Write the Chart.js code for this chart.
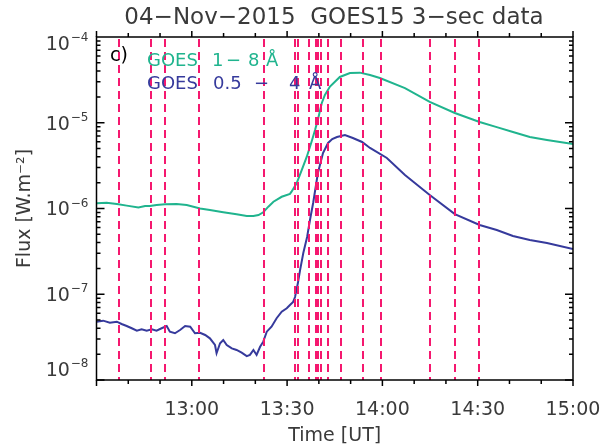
<!DOCTYPE html>
<html>
<head>
<meta charset="utf-8">
<title>GOES15 3-sec data</title>
<script src="https://cdn.jsdelivr.net/npm/chart.js@4.4.0/dist/chart.umd.min.js"></script>
<style>
    html, body { margin: 0; padding: 0; background: #fff; }
    #wrap { width: 602px; height: 447px; }
</style>
</head>
<body>
<div id="wrap"><canvas id="goesChart" width="602" height="447"></canvas></div>
<script>
// Time is in minutes after 12:00 UT, flux in W/m^2

// GOES 1-8 A channel
const longTime = [30.1, 33.2, 36.4, 39.5, 43.2, 45.3, 46.8, 48.9, 51.6, 55.2, 58.4, 60.5, 62.6, 65.7,
    69.9, 74.1, 77.3, 79.4, 81.0, 82.5, 84.1, 85.7, 88.3, 90.9, 91.4, 93.0, 94.6, 96.2, 97.7, 98.8,
    99.8, 100.9, 101.9, 103.5, 106.6, 109.8, 112.9, 116.1, 119.2, 127.1, 134.9, 142.8, 150.6, 156.0,
    161.1, 166.4, 171.8, 180];
const longFlux = [1.15e-6, 1.17e-6, 1.13e-6, 1.08e-6, 1.03e-6, 1.07e-6, 1.07e-6, 1.10e-6, 1.12e-6,
    1.13e-6, 1.10e-6, 1.05e-6, 1.00e-6, 9.6e-7, 9.04e-7, 8.56e-7, 8.18e-7, 8.18e-7, 8.40e-7, 9.04e-7,
    1.05e-6, 1.20e-6, 1.37e-6, 1.48e-6, 1.57e-6, 1.97e-6, 2.81e-6, 4.02e-6, 6.01e-6, 8.22e-6, 1.13e-5,
    1.69e-5, 2.11e-5, 2.64e-5, 3.42e-5, 3.80e-5, 3.84e-5, 3.60e-5, 3.32e-5, 2.54e-5, 1.75e-5, 1.30e-5,
    1.02e-5, 8.9e-6, 7.8e-6, 6.82e-6, 6.30e-6, 5.65e-6];

// GOES 0.5-4 A channel
const shortTime = [30.0, 32.1, 34.2, 36.4, 37.9, 39.5, 41.1, 42.7, 44.2, 45.8, 47.4, 48.9, 50.5, 52.1,
    53.1, 54.7, 56.3, 57.9, 59.5, 61.0, 62.6, 64.2, 65.7, 67.3, 67.8, 68.9, 69.9, 71.0, 72.6, 74.1,
    75.7, 77.3, 78.3, 79.4, 80.4, 81.5, 82.5, 83.6, 85.1, 86.7, 88.3, 89.9, 90.9, 91.9, 92.5, 93.4,
    94.1, 95.1, 96.3, 97.2, 98.2, 99.7, 101.3, 102.9, 104.2, 105.7, 108.2, 110.7, 113.6, 116.1, 121.4,
    127.1, 134.9, 142.8, 150.6, 156.0, 161.1, 166.4, 171.8, 180];
const shortFlux = [4.79e-8, 4.92e-8, 4.66e-8, 4.79e-8, 4.50e-8, 4.26e-8, 4.01e-8, 3.76e-8, 3.90e-8,
    3.76e-8, 3.90e-8, 3.76e-8, 4.01e-8, 4.26e-8, 3.66e-8, 3.51e-8, 3.83e-8, 4.26e-8, 4.19e-8, 3.51e-8,
    3.56e-8, 3.35e-8, 3.06e-8, 2.56e-8, 2.05e-8, 2.68e-8, 2.93e-8, 2.56e-8, 2.34e-8, 2.24e-8, 2.08e-8,
    1.90e-8, 1.96e-8, 2.24e-8, 1.96e-8, 2.44e-8, 2.80e-8, 3.66e-8, 4.19e-8, 5.25e-8, 6.27e-8, 6.86e-8,
    7.50e-8, 8.13e-8, 9.29e-8, 1.35e-7, 1.92e-7, 3.03e-7, 4.65e-7, 7.34e-7, 1.16e-6, 2.59e-6, 4.44e-6,
    5.81e-6, 6.46e-6, 6.82e-6, 7.19e-6, 6.64e-6, 5.97e-6, 5.08e-6, 3.88e-6, 2.46e-6, 1.44e-6, 8.6e-7,
    6.42e-7, 5.61e-7, 4.78e-7, 4.29e-7, 3.96e-7, 3.37e-7];

// Marked event times (dashed lines)
const eventTimes = [37.1, 47.1, 51.5, 62.3, 82.6, 92.5, 93.5, 96.9, 99.0, 99.8, 100.6, 103.0,
    107.1, 113.8, 119.7, 135.0, 142.9, 150.4];

// Axis ticks
const xTickTimes = [60, 90, 120, 150, 180];
const xTickLabels = ['13:00', '13:30', '14:00', '14:30', '15:00'];
const yTickExps = [-8, -7, -6, -5, -4];

const GREEN = '#20b48e';
const BLUE = '#363a9c';
const PINK = '#f5186f';
const TEXT = '#3a3a3a';
const FONT = '"DejaVu Sans", sans-serif';

const toPoints = (times, values) => times.map((t, i) => ({ x: t, y: values[i] }));

// Dashed event markers, drawn over the curves
const eventLines = {
    id: 'eventLines',
    afterDatasetsDraw(chart) {
        const { ctx, chartArea: a, scales: { x } } = chart;
        ctx.save();
        ctx.strokeStyle = PINK;
        ctx.lineWidth = 2;
        ctx.setLineDash([8, 5]);
        eventTimes.forEach(t => {
            const px = Math.round(x.getPixelForValue(t));
            ctx.beginPath();
            ctx.moveTo(px, a.top + 2);
            ctx.lineTo(px, a.bottom);
            ctx.stroke();
        });
        ctx.restore();
    }
};

// Box, inward log ticks, outward time ticks and all the labels
const goesAxes = {
    id: 'goesAxes',
    afterDraw(chart) {
        const { ctx, chartArea: a, scales: { x, y } } = chart;
        ctx.save();
        ctx.strokeStyle = '#000';
        ctx.lineWidth = 1.5;
        ctx.strokeRect(a.left, a.top, a.right - a.left, a.bottom - a.top);

        ctx.beginPath();
        for (let m = 30; m <= 180; m += 10) {
            const px = x.getPixelForValue(m);
            const len = m % 30 === 0 ? 6 : 4;
            ctx.moveTo(px, a.bottom); ctx.lineTo(px, a.bottom + len);
            ctx.moveTo(px, a.top); ctx.lineTo(px, a.top - len);
        }
        for (let e = -8; e < -4; e++) {
            for (let k = 1; k < 10; k++) {
                const py = y.getPixelForValue(k * Math.pow(10, e));
                const len = k === 1 ? 8 : 4;
                ctx.moveTo(a.left, py); ctx.lineTo(a.left + len, py);
                ctx.moveTo(a.right, py); ctx.lineTo(a.right - len, py);
            }
        }
        ctx.stroke();

        ctx.fillStyle = TEXT;
        ctx.textBaseline = 'middle';

        // time labels
        ctx.font = `19px ${FONT}`;
        ctx.textAlign = 'center';
        xTickTimes.forEach((m, i) => {
            ctx.fillText(xTickLabels[i], x.getPixelForValue(m), a.bottom + 30);
        });

        // decade labels, 10 with a raised exponent
        yTickExps.forEach(e => {
            const py = y.getPixelForValue(Math.pow(10, e));
            const mid = Math.min(Math.max(py + 2, a.top + 8), a.bottom - 9);
            const exp = '\u2212' + Math.abs(e);
            ctx.font = `12px ${FONT}`;
            ctx.textAlign = 'right';
            const expW = ctx.measureText(exp).width;
            ctx.fillText(exp, a.left - 8, mid - 7);
            ctx.font = `19px ${FONT}`;
            ctx.fillText('10', a.left - 9 - expW, mid);
        });

        // axis titles
        ctx.textAlign = 'center';
        ctx.font = `19px ${FONT}`;
        ctx.fillText('Time [UT]', (a.left + a.right) / 2, 436);
        ctx.save();
        ctx.translate(25, (a.top + a.bottom) / 2);
        ctx.rotate(-Math.PI / 2);
        ctx.fillText('Flux [W.m\u207B\u00B2]', 0, 0);
        ctx.restore();

        // title
        ctx.font = `23px ${FONT}`;
        ctx.fillText('04\u2212Nov\u22122015  GOES15 3\u2212sec data', 334, 18);

        // panel tag and channel legend
        ctx.textAlign = 'left';
        ctx.fillStyle = '#000';
        ctx.font = `19px ${FONT}`;
        ctx.fillText('c)', 110, 56);

        ctx.font = `18px ${FONT}`;
        ctx.fillStyle = GREEN;
        ctx.fillText('GOES', 147, 61);
        ctx.fillText('1', 212, 61);
        ctx.fillText('\u2212', 226, 61);
        ctx.fillText('8', 248, 61);
        ctx.fillText('\u00C5', 266, 61);
        ctx.fillStyle = BLUE;
        ctx.fillText('GOES', 147, 84);
        ctx.fillText('0.5', 213, 84);
        ctx.fillText('\u2212', 254, 84);
        ctx.fillText('4', 289, 84);
        ctx.fillText('\u00C5', 309, 84);
        ctx.restore();
    }
};

new Chart(document.getElementById('goesChart'), {
    type: 'line',
    data: {
        datasets: [
            {
                label: 'GOES 1-8 A',
                data: toPoints(longTime, longFlux),
                borderColor: GREEN,
                borderWidth: 2
            },
            {
                label: 'GOES 0.5-4 A',
                data: toPoints(shortTime, shortFlux),
                borderColor: BLUE,
                borderWidth: 2
            }
        ]
    },
    options: {
        responsive: false,
        animation: false,
        devicePixelRatio: 1,
        layout: { padding: { left: 96.5, top: 37, right: 29, bottom: 67 } },
        elements: { point: { radius: 0 }, line: { tension: 0 } },
        scales: {
            x: { type: 'linear', min: 30, max: 180, display: false },
            y: { type: 'logarithmic', min: 1e-8, max: 1e-4, display: false }
        },
        plugins: {
            legend: { display: false },
            tooltip: { enabled: false }
        }
    },
    plugins: [eventLines, goesAxes]
});
</script>
</body>
</html>
